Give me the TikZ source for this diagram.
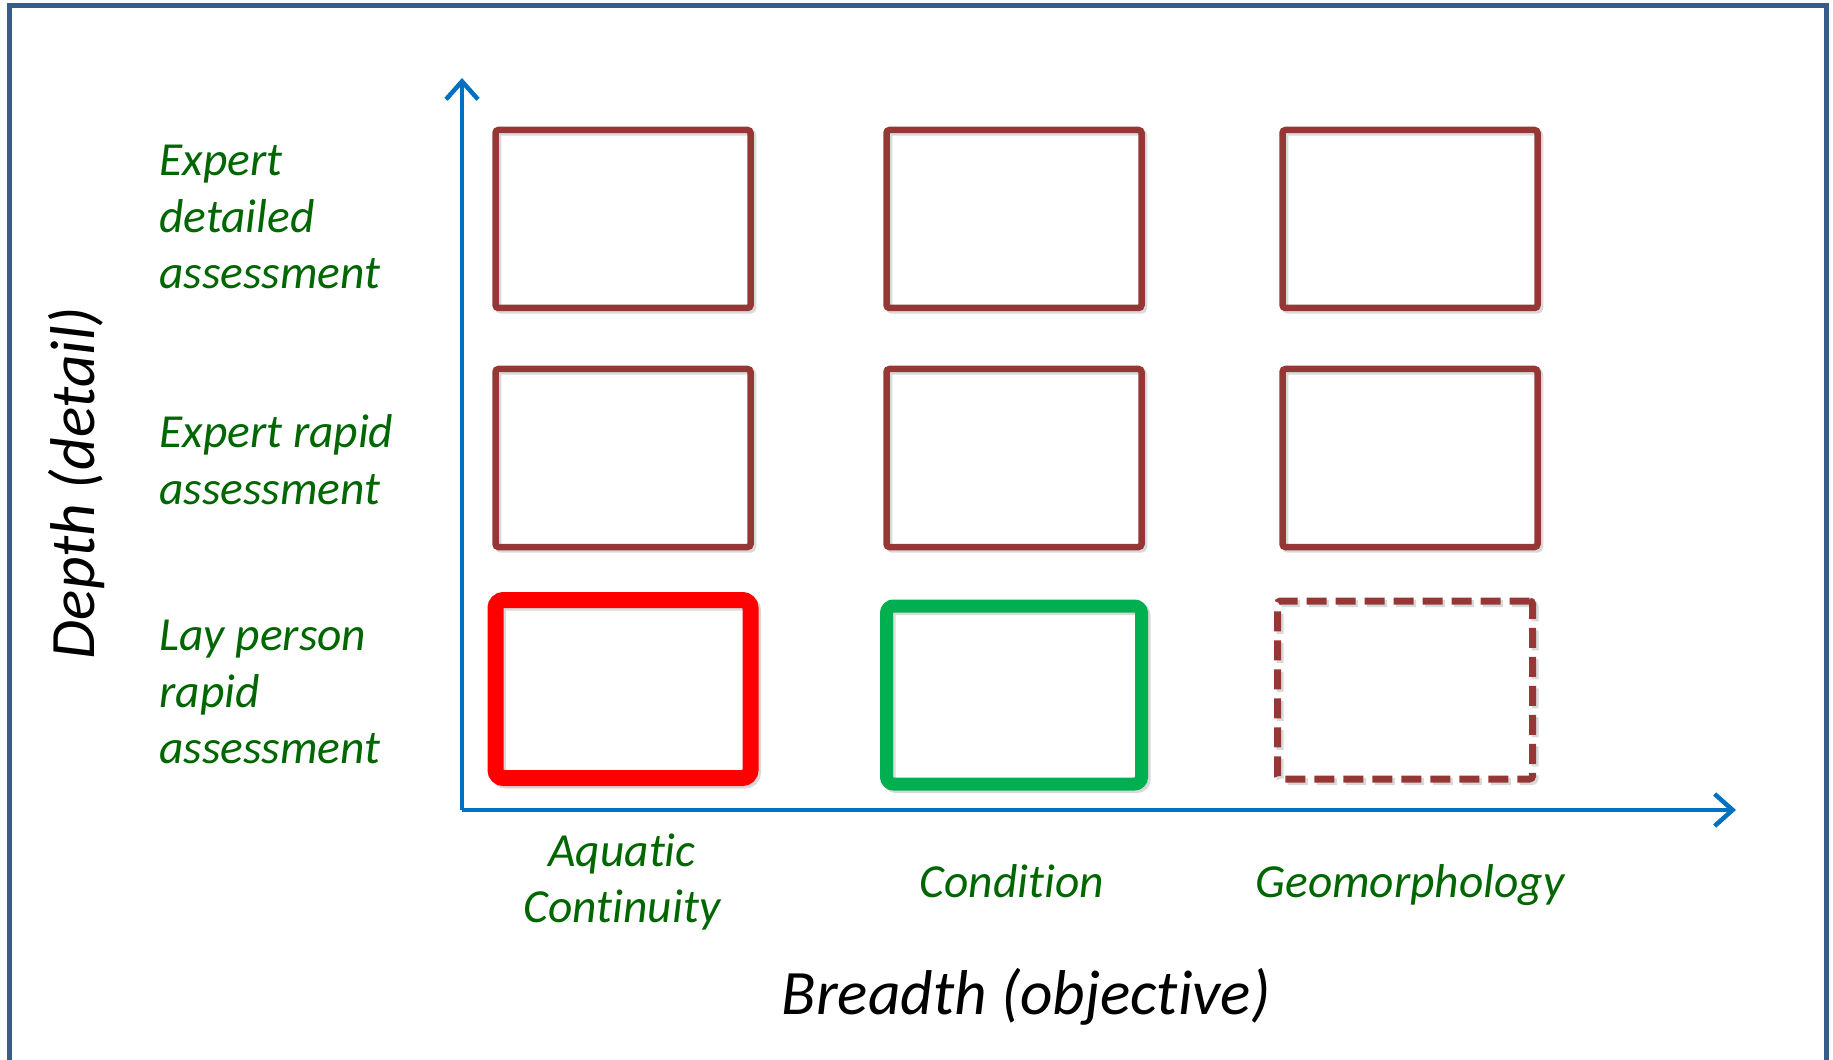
\documentclass[tikz,border=0pt]{standalone}
\usepackage{fontspec}
\setmainfont{Carlito}[Ligatures=CommonOff]
\usetikzlibrary{arrows.meta}
\definecolor{framec}{HTML}{385D8A}
\definecolor{axisblue}{HTML}{0070C0}
\definecolor{brownc}{HTML}{953735}
\definecolor{boxgreen}{HTML}{00B050}
\definecolor{labgreen}{HTML}{006600}
\begin{document}
\begin{tikzpicture}[
	cell/.style={draw=brownc, line width=0.065cm, rounded corners=0.03cm, minimum width=2.55cm, minimum height=1.78cm, inner sep=0pt,
		preaction={draw=black, opacity=0.15, transform canvas={shift={(0.025,-0.025)}}}},
	rowlab/.style={text=labgreen, font=\itshape\fontsize{13.5}{16.2}\selectfont, align=left, anchor=west},
	collab/.style={text=labgreen, font=\itshape\fontsize{13.5}{16.2}\selectfont, align=center},
	axtitle/.style={font=\itshape\fontsize{18}{22}\selectfont},
	axis/.style={draw=axisblue, line width=0.045cm, -{Straight Barb[length=0.18cm, width=0.32cm]}}
	]
	\useasboundingbox (0,0) rectangle (18.33,-10.60);
	\draw[framec, line width=0.05cm] (0.094,-0.06) rectangle (18.26,-10.80);
	% axes
	\coordinate (o) at (4.62,-8.10);
	\coordinate (ytip) at (4.62,-0.78);
	\coordinate (xtip) at (17.36,-8.10);
	\draw[axis] (o) -- (ytip);
	\draw[axis] (o) -- (xtip);
	% grid of boxes
	\foreach \c/\x in {1/6.23, 2/10.14, 3/14.10} {
		\foreach \r/\y in {1/-2.19, 2/-4.58} {
			\node[cell] (c\c r\r) at (\x,\y) {};
		}
	}
	\node[cell, draw=red, line width=0.16cm, rounded corners=0.08cm] (c1r3) at (6.23,-6.89) {};
	\node[cell, draw=boxgreen, line width=0.13cm, rounded corners=0.07cm] (c2r3) at (10.14,-6.95) {};
	\node[cell, line width=0.07cm, dash pattern=on 0.2cm off 0.09cm] (c3r3) at (14.05,-6.90) {};
	% labels
	\node[rowlab] (lab1) at (1.47,-2.17) {Expert\\detailed\\assessment};
	\node[rowlab] (lab2) at (1.47,-4.60) {Expert rapid\\assessment};
	\node[rowlab] (lab3) at (1.47,-6.92) {Lay person\\rapid\\assessment};
	\node[collab] (aqc) at (6.22,-8.82) {Aquatic\\Continuity};
	\node[collab] (cond) at (10.12,-8.81) {Condition};
	\node[collab] (geo) at (14.10,-8.85) {Geomorphology};
	\node[axtitle] (breadth) at (10.26,-9.97) {Breadth (objective)};
	\node[axtitle, rotate=90] (depth) at (0.76,-4.83) {Depth (detail)};
\end{tikzpicture}
\end{document}
